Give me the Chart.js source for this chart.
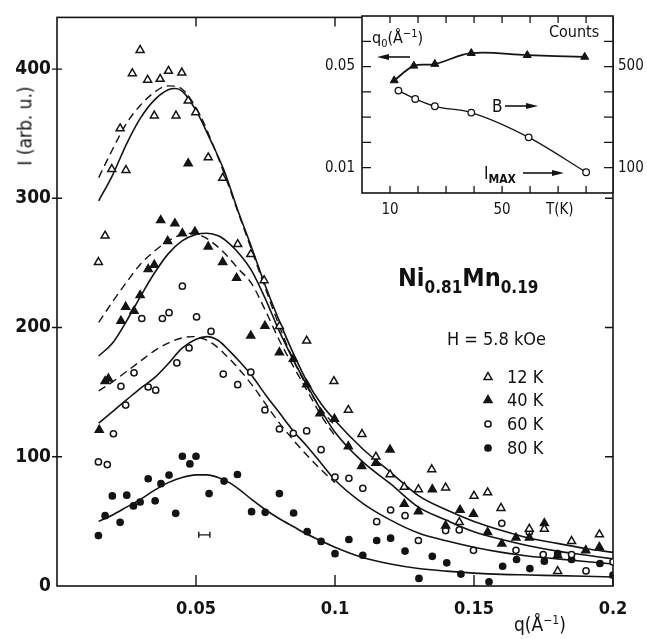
<!DOCTYPE html>
<html><head><meta charset="utf-8">
<script src="https://cdn.jsdelivr.net/npm/chart.js@4/dist/chart.umd.min.js"></script>
<style>
html,body{margin:0;padding:0;background:#fff;}
#wrap{position:relative;width:647px;height:639px;overflow:hidden;background:#fff;font-family:'DejaVu Sans Condensed','DejaVu Sans',sans-serif;color:#111;}
#main{position:absolute;left:0;top:0;}
#inset{position:absolute;left:300px;top:0;}
.t{position:absolute;white-space:nowrap;line-height:1;}
.sub{font-size:17px;position:relative;top:7px;}
</style></head><body>
<div id="wrap">
<canvas id="main" width="647" height="639"></canvas>
<canvas id="inset" width="347" height="230"></canvas>
<div class="t" style="left:25px;top:126px;transform:translate(-50%,-50%) rotate(-90deg);font-size:19px;">I (arb. u.)</div>
<div class="t" style="left:514px;top:615px;font-size:19px;">q(Å<span style="font-size:12px;position:relative;top:-7px;">−1</span>)</div>
<div class="t" style="left:398px;top:265px;font-size:25px;font-weight:bold;">Ni<span class="sub">0.81</span>Mn<span class="sub">0.19</span></div>
<div class="t" style="left:447px;top:330px;font-size:18px;">H = 5.8 kOe</div>
<div class="t" style="left:507px;top:368px;font-size:18px;">12 K</div>
<div class="t" style="left:507px;top:391px;font-size:18px;">40 K</div>
<div class="t" style="left:507px;top:415px;font-size:18px;">60 K</div>
<div class="t" style="left:507px;top:439px;font-size:18px;">80 K</div>
<div class="t" style="left:372px;top:30px;font-size:16px;">q<span style="font-size:11px;position:relative;top:4px;">0</span>(Å<span style="font-size:11px;position:relative;top:-6px;">−1</span>)</div>
<div class="t" style="left:549px;top:24px;font-size:16px;">Counts</div>
<div class="t" style="left:492px;top:98px;font-size:17px;">B</div>
<div class="t" style="left:484px;top:165px;font-size:17px;">I<span style="font-size:12px;font-weight:bold;position:relative;top:4px;">MAX</span></div>
<div class="t" style="left:546px;top:202px;font-size:15px;">T(K)</div>
</div>
<script>
// ---------- main plot data: q (1/Å) and I (arb. u.) ----------
const q12 = [0.0149,0.0173,0.0197,0.0227,0.0248,0.0271,0.0299,0.0326,0.0350,0.0371,0.0401,0.0428,0.0449,0.0472,0.0499,0.0544,0.0596,0.0650,0.0697,0.0745,0.0800,0.0898,0.0996,0.1048,0.1097,0.1147,0.1198,0.1249,0.1300,0.1348,0.1398,0.1447,0.1500,0.1549,0.1597,0.1699,0.1753,0.1801,0.1851,0.1951];
const i12 = [250.6,271,322.6,354,321.8,396.7,414.7,391.6,364,392.3,398.5,364,397.2,375.5,366.5,331.6,315.7,264.4,256.7,236.5,201,189.8,158.4,136.2,117.5,100,86.3,76.6,74.8,90.2,76.1,49.3,69.7,72.3,60.3,44.2,44.2,11.5,34.7,39.8];

const q40 = [0.0152,0.0173,0.0185,0.0230,0.0247,0.0277,0.0299,0.0328,0.0350,0.0373,0.0398,0.0424,0.0451,0.0472,0.0496,0.0544,0.0596,0.0646,0.0697,0.0748,0.0800,0.0850,0.0898,0.0946,0.0998,0.1048,0.1096,0.1147,0.1198,0.1249,0.1300,0.1350,0.1398,0.1450,0.1498,0.1549,0.1600,0.1651,0.1699,0.1753,0.1801,0.1902,0.1951];
const i40 = [120.8,158.4,160.4,205.1,216,212.8,225,245.2,248.5,283,266.9,280.5,272.8,327,274.1,262.6,250.6,238.3,193.6,201.3,180.8,175.7,156,133.6,129.3,108,92.7,95.3,105.5,63.4,57.7,74.8,46.7,58.8,55.7,41.6,32.7,37.3,37.3,48.5,23.8,27.6,30.1];

const q60 = [0.0149,0.0181,0.0203,0.0230,0.0247,0.0277,0.0305,0.0328,0.0355,0.0379,0.0403,0.0431,0.0451,0.0475,0.0502,0.0554,0.0598,0.0650,0.0697,0.0748,0.0800,0.0850,0.0898,0.0950,0.1000,0.1050,0.1100,0.1150,0.1200,0.1252,0.1300,0.1398,0.1447,0.1498,0.1600,0.1651,0.1699,0.1749,0.1851,0.1903,0.2000];
const i60 = [96,94,117.8,154.5,140,165,207,154,151.5,207,211.5,172.6,232,184.2,208.2,197,164,155.8,165.5,136.2,121.5,118.2,120,105.5,84.3,83.3,75.6,49.8,58.8,54.4,35.2,42.9,43.4,27.6,48.5,27.6,41.6,24.3,24.3,11.7,18.6];

const q80 = [0.0149,0.0173,0.0199,0.0227,0.0251,0.0275,0.0299,0.0328,0.0353,0.0374,0.0403,0.0427,0.0451,0.0478,0.0500,0.0547,0.0601,0.0649,0.0700,0.0749,0.0800,0.0851,0.0900,0.0950,0.1000,0.1050,0.1100,0.1150,0.1200,0.1252,0.1302,0.1350,0.1402,0.1453,0.1554,0.1603,0.1653,0.1701,0.1753,0.1801,0.1851,0.1953,0.2000];
const i80 = [39,54.4,69.7,49.3,70.3,62,65,83,65.9,79.2,85.8,56.2,100.4,94.5,100.4,71.5,81.2,86.3,57.5,57,71.5,56.5,42,34.5,25,36,23.8,35.2,37,27,5.9,23,17.9,9.2,3.3,15.3,20.5,13.5,19.2,25,20.5,17.4,8.4];

// ---------- fitted curves ----------
const fq12s = [0.015,0.02,0.025,0.03,0.035,0.04,0.0425,0.045,0.05,0.055,0.06,0.065,0.07,0.075,0.08,0.085,0.09,0.095,0.1,0.11,0.12,0.13,0.14,0.15,0.16,0.17,0.18,0.19,0.2];
const fi12s = [298,318,342,362,376,384,385,383,368,346,322,291,262,232,205,180,158,141,128,106,88,70,59,50,43,37,33,29,26];
const fq12d = [0.015,0.02,0.025,0.03,0.035,0.04,0.044,0.048,0.052,0.056,0.06,0.065,0.07,0.075,0.08,0.085,0.09,0.095,0.1];
const fi12d = [316,338,358,372,382,387,386,377,362,342,320,290,260,230,201,175,154,137,124];

const fq40s = [0.015,0.02,0.025,0.03,0.035,0.04,0.045,0.05,0.054,0.058,0.062,0.066,0.07,0.075,0.08,0.085,0.09,0.095,0.1,0.11,0.12,0.13,0.14,0.15,0.16,0.17,0.18,0.19,0.2];
const fi40s = [178,188,205,224,242,257,267,272,273,271,265,256,244,222,197,175,155,136,119,96,79,61,51,42,36,31,27,24,21];
const fq40d = [0.015,0.02,0.025,0.03,0.035,0.04,0.045,0.049,0.053,0.057,0.061,0.065,0.07,0.075,0.08,0.085,0.09,0.095,0.1];
const fi40d = [204,220,235,249,259,267,272,273,270,264,256,246,234,213,190,170,151,132,116];

const fq60s = [0.015,0.02,0.025,0.03,0.035,0.04,0.045,0.05,0.054,0.058,0.062,0.066,0.07,0.075,0.08,0.085,0.09,0.095,0.1,0.11,0.12,0.13,0.14,0.15,0.16,0.17,0.18,0.19,0.2];
const fi60s = [126,135,144,153,161,172,184,191,193,190,182,173,163,148,134,120,108,95,82,64,51,41,35,30,26,23,21,19,17];
const fq60d = [0.015,0.02,0.025,0.03,0.035,0.04,0.045,0.049,0.053,0.057,0.061,0.065,0.07,0.075,0.08,0.085,0.09,0.095,0.1];
const fi60d = [151,158,166,174,182,188,192,193,191,186,178,169,156,141,126,113,101,90,80];

const fq80s = [0.015,0.02,0.025,0.03,0.035,0.04,0.045,0.05,0.054,0.058,0.062,0.066,0.07,0.075,0.08,0.085,0.09,0.095,0.1,0.11,0.12,0.13,0.14,0.15,0.16,0.17,0.18,0.19,0.2];
const fi80s = [50,55,61,67,74,80,84,86,86,84,80,74,67,59,52,46,40,35,30,22,17,13.5,11.5,10,9,8.5,8,7.5,7];

// resolution bar
const errQ = [0.051,0.055];
const errI = [39.6,39.6];

// axis ticks
const xTickVals = [0.05,0.1,0.15,0.2];
const xTickLabels = ['0.05','0.1','0.15','0.2'];
const yTickVals = [0,100,200,300,400];
const yTickLabels = ['0','100','200','300','400'];

// ---------- inset data ----------
const tQ0 = [11.5,18.5,26,39,59,79.5];
const q0 = [0.0445,0.0503,0.0510,0.0553,0.0545,0.0538];
const tImax = [13,19,26,39,59.5,80];
const imax = [405,372,343,318,220,82];
const insetXTicks = [10,20,30,40,50,60,70,80];
const insetXLabels = {10:'10',50:'50'};
const insetYTicks = [0.01,0.02,0.03,0.04,0.05,0.06];
const insetYLabels = ['0.01','','','','0.05',''];
const insetY2Ticks = [100,200,300,400,500,600];
const insetY2Labels = ['100','','','','500',''];

const INK = '#141414';
const pairs = (xs, ys) => xs.map((v, k) => ({x: v, y: ys[k]}));
const near = (a, b) => Math.abs(a - b) < 1e-7;

const tickFontY = {family: "'DejaVu Sans Condensed','DejaVu Sans',sans-serif", size: 19, weight: 'bold'};
const tickFontX = {family: "'DejaVu Sans Condensed','DejaVu Sans',sans-serif", size: 18, weight: 'bold'};

function drawMarker(ctx, style, x, y, r, filled) {
  ctx.beginPath();
  if (style === 'triangle') {
    for (let k = 0; k < 3; k++) {
      const a = -Math.PI / 2 + k * 2 * Math.PI / 3;
      const px = x + Math.cos(a) * r, py = y + 0.5 + Math.sin(a) * r + r * 0.15;
      if (k === 0) ctx.moveTo(px, py); else ctx.lineTo(px, py);
    }
    ctx.closePath();
  } else {
    ctx.arc(x, y, r, 0, Math.PI * 2);
  }
  ctx.fillStyle = filled ? INK : '#fff';
  ctx.fill();
  ctx.lineWidth = 1.5;
  ctx.strokeStyle = INK;
  ctx.stroke();
}

const mainDeco = {
  id: 'mainDeco',
  beforeDatasetsDraw(chart) {
    const {ctx, chartArea: a, scales: {x, y}} = chart;
    ctx.save();
    ctx.strokeStyle = INK;
    ctx.lineWidth = 1.6;
    ctx.strokeRect(a.left, a.top, a.right - a.left, a.bottom - a.top);
    ctx.lineWidth = 1.4;
    ctx.beginPath();
    xTickVals.forEach(v => {
      const px = x.getPixelForValue(v);
      ctx.moveTo(px, a.bottom); ctx.lineTo(px, a.bottom - 11);
      ctx.moveTo(px, a.top); ctx.lineTo(px, a.top + 9);
    });
    yTickVals.forEach(v => {
      if (v === 0) return;
      const py = y.getPixelForValue(v);
      ctx.moveTo(a.left - 5, py); ctx.lineTo(a.left + 5, py);
      ctx.moveTo(a.right, py); ctx.lineTo(a.right - 8, py);
    });
    ctx.stroke();
    ctx.restore();
  },
  afterDatasetsDraw(chart) {
    const ctx = chart.ctx;
    ctx.save();
    const lx = 488;
    drawMarker(ctx, 'triangle', lx, 376, 4.6, false);
    drawMarker(ctx, 'triangle', lx, 399, 4.6, true);
    drawMarker(ctx, 'circle', lx, 424, 3.1, false);
    drawMarker(ctx, 'circle', lx, 448, 3.1, true);
    ctx.restore();
  }
};

const ptsBase = {showLine: false, borderColor: INK, borderWidth: 1.5, order: 0};
const lineBase = {showLine: true, pointRadius: 0, borderColor: INK, borderWidth: 1.6, cubicInterpolationMode: 'monotone', order: 1, fill: false};

new Chart(document.getElementById('main'), {
  type: 'scatter',
  data: {
    datasets: [
      {...ptsBase, label: '12 K', data: pairs(q12, i12), pointStyle: 'triangle', pointRadius: 4.6, backgroundColor: '#fff'},
      {...ptsBase, label: '40 K', data: pairs(q40, i40), pointStyle: 'triangle', pointRadius: 4.6, backgroundColor: INK},
      {...ptsBase, label: '60 K', data: pairs(q60, i60), pointStyle: 'circle', pointRadius: 3.1, backgroundColor: '#fff'},
      {...ptsBase, label: '80 K', data: pairs(q80, i80), pointStyle: 'circle', pointRadius: 3.1, backgroundColor: INK},
      {...lineBase, label: 'fit 12 K', data: pairs(fq12s, fi12s)},
      {...lineBase, label: 'fit 12 K (2)', data: pairs(fq12d, fi12d), borderDash: [8, 5], borderWidth: 1.4},
      {...lineBase, label: 'fit 40 K', data: pairs(fq40s, fi40s)},
      {...lineBase, label: 'fit 40 K (2)', data: pairs(fq40d, fi40d), borderDash: [8, 5], borderWidth: 1.4},
      {...lineBase, label: 'fit 60 K', data: pairs(fq60s, fi60s)},
      {...lineBase, label: 'fit 60 K (2)', data: pairs(fq60d, fi60d), borderDash: [8, 5], borderWidth: 1.4},
      {...lineBase, label: 'fit 80 K', data: pairs(fq80s, fi80s)},
      {showLine: true, label: 'resolution', data: pairs(errQ, errI), borderColor: INK, borderWidth: 1.4,
       pointStyle: 'line', rotation: 90, pointRadius: 3, pointBorderWidth: 1.4, order: 0}
    ]
  },
  options: {
    responsive: false, animation: false, devicePixelRatio: 1, events: [],
    layout: {padding: {top: 12, right: 34, left: 0, bottom: 0}},
    plugins: {legend: {display: false}, tooltip: {enabled: false}},
    scales: {
      x: {
        type: 'linear', min: 0, max: 0.2,
        grid: {display: false, drawTicks: false}, border: {display: false},
        ticks: {stepSize: 0.05, padding: 13, color: INK, font: tickFontX, maxRotation: 0, autoSkip: false,
          callback: v => { const k = xTickVals.findIndex(t => near(t, v)); return k < 0 ? '' : xTickLabels[k]; }},
        afterFit: s => { s.height = 53; }
      },
      y: {
        type: 'linear', min: 0, max: 440,
        grid: {display: false, drawTicks: false}, border: {display: false},
        ticks: {stepSize: 100, includeBounds: false, padding: 6, color: INK, font: tickFontY,
          callback: v => { const k = yTickVals.findIndex(t => near(t, v)); return k < 0 ? '' : yTickLabels[k]; }},
        afterFit: s => { s.width = 57; }
      }
    }
  },
  plugins: [mainDeco]
});

// ---------- inset ----------
function arrow(ctx, x1, y, x2) {
  const dir = Math.sign(x2 - x1);
  ctx.beginPath();
  ctx.moveTo(x1, y); ctx.lineTo(x2 - dir * 9, y);
  ctx.lineWidth = 1.6; ctx.stroke();
  ctx.beginPath();
  ctx.moveTo(x2, y); ctx.lineTo(x2 - dir * 12, y - 3); ctx.lineTo(x2 - dir * 12, y + 3); ctx.closePath();
  ctx.fill();
}

const insetDeco = {
  id: 'insetDeco',
  beforeDraw(chart) {
    const {ctx, chartArea: a} = chart;
    ctx.save();
    ctx.fillStyle = '#fff';
    ctx.fillRect(a.left, a.top, a.right - a.left, a.bottom - a.top);
    ctx.restore();
  },
  beforeDatasetsDraw(chart) {
    const {ctx, chartArea: a, scales: {x, y, y2}} = chart;
    ctx.save();
    ctx.strokeStyle = INK;
    ctx.lineWidth = 1.6;
    ctx.strokeRect(a.left, a.top, a.right - a.left, a.bottom - a.top);
    ctx.lineWidth = 1.3;
    ctx.beginPath();
    insetXTicks.forEach(v => {
      const px = x.getPixelForValue(v);
      ctx.moveTo(px, a.top); ctx.lineTo(px, a.top + 7);
      ctx.moveTo(px, a.bottom); ctx.lineTo(px, a.bottom - 7);
    });
    insetYTicks.forEach(v => { const py = y.getPixelForValue(v); ctx.moveTo(a.left, py); ctx.lineTo(a.left + 9, py); });
    insetY2Ticks.forEach(v => { const py = y2.getPixelForValue(v); ctx.moveTo(a.right, py); ctx.lineTo(a.right - 9, py); });
    ctx.stroke();
    ctx.restore();
  },
  afterDraw(chart) {
    const ctx = chart.ctx;
    ctx.save();
    ctx.strokeStyle = INK; ctx.fillStyle = INK;
    arrow(ctx, 110, 57, 77);
    arrow(ctx, 205, 106, 238);
    arrow(ctx, 223, 173, 264);
    ctx.restore();
  }
};

const insetFont = {family: "'DejaVu Sans Condensed','DejaVu Sans',sans-serif", size: 15};
new Chart(document.getElementById('inset'), {
  type: 'scatter',
  data: {
    datasets: [
      {label: 'q0', data: pairs(tQ0, q0), yAxisID: 'y', showLine: true, tension: 0.35,
       borderColor: INK, borderWidth: 1.8, pointStyle: 'triangle', pointRadius: 4.6, backgroundColor: INK, pointBorderWidth: 1},
      {label: 'IMAX', data: pairs(tImax, imax), yAxisID: 'y2', showLine: true, cubicInterpolationMode: 'monotone',
       borderColor: INK, borderWidth: 1.3, pointStyle: 'circle', pointRadius: 3.3, backgroundColor: '#fff', pointBorderWidth: 1.3}
    ]
  },
  options: {
    responsive: false, animation: false, devicePixelRatio: 1, events: [],
    layout: {padding: {top: 12, right: 0, left: 0, bottom: 0}},
    plugins: {legend: {display: false}, tooltip: {enabled: false}},
    scales: {
      x: {type: 'linear', min: 0, max: 89.6, grid: {display: false, drawTicks: false}, border: {display: false},
        ticks: {stepSize: 10, includeBounds: false, padding: 8, color: INK, font: insetFont, maxRotation: 0, autoSkip: false,
          callback: v => insetXLabels[Math.round(v)] || ''},
        afterFit: s => { s.height = 37; }},
      y: {type: 'linear', position: 'left', min: 0, max: 0.07, grid: {display: false, drawTicks: false}, border: {display: false},
        ticks: {stepSize: 0.01, includeBounds: false, padding: 7, color: INK, font: insetFont,
          callback: v => { const k = insetYTicks.findIndex(t => near(t, v)); return k < 0 ? '' : insetYLabels[k]; }},
        afterFit: s => { s.width = 62; }},
      y2: {type: 'linear', position: 'right', min: 0, max: 700, grid: {display: false, drawTicks: false}, border: {display: false},
        ticks: {stepSize: 100, includeBounds: false, padding: 5, color: INK, font: insetFont,
          callback: v => { const k = insetY2Ticks.findIndex(t => near(t, v)); return k < 0 ? '' : insetY2Labels[k]; }},
        afterFit: s => { s.width = 34; }}
    }
  },
  plugins: [insetDeco]
});
</script>
</body></html>
